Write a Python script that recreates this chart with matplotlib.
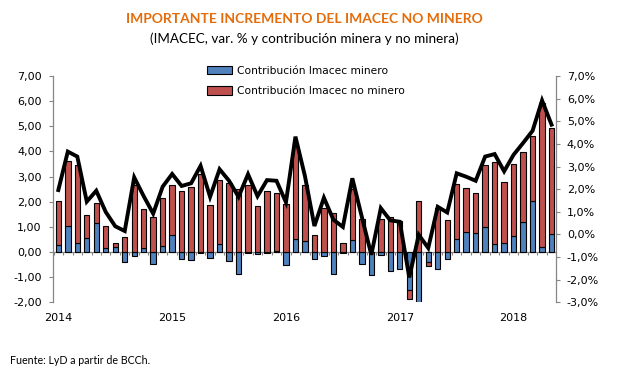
import numpy as np
import matplotlib
matplotlib.use("Agg")
import matplotlib.pyplot as plt
from matplotlib.ticker import FuncFormatter, FixedLocator

# ---------------- data ----------------
months = [f"{y}-{m:02d}" for y in range(2014, 2019) for m in range(1, 13)][:53]

minero = [0.27, 1.02, 0.34, 0.54, 1.14, 0.15, 0.19, -0.41, -0.15, 0.15, -0.49, 0.23,
          0.66, -0.29, -0.33, -0.05, -0.25, 0.31, -0.37, -0.89, -0.05, -0.09, -0.05, 0.06,
          -0.53, 0.50, 0.45, -0.29, -0.17, -0.89, -0.05, 0.46, -0.49, -0.93, -0.13, -0.77,
          -0.66, -1.51, -2.10, -0.40, -0.69, -0.28, 0.50, 0.78, 0.74, 0.98, 0.31, 0.34,
          0.62, 1.18, 2.02, 0.19, 0.70]

no_minero = [1.75, 2.59, 3.11, 0.92, 0.80, 0.87, 0.15, 0.58, 2.65, 1.55, 1.38, 1.91,
             1.99, 2.41, 2.57, 3.09, 1.86, 2.54, 2.73, 2.49, 2.65, 1.83, 2.41, 2.27,
             1.90, 3.85, 2.20, 0.66, 1.74, 1.57, 0.34, 2.03, 1.30, 0.02, 1.30, 1.38,
             1.23, -0.36, 2.02, -0.17, 1.75, 1.26, 2.19, 1.75, 1.59, 2.47, 3.26, 2.43,
             2.87, 2.79, 2.58, 5.73, 4.22]

imacec = [1.96, 3.66, 3.44, 1.45, 1.93, 0.99, 0.36, 0.15, 2.52, 1.69, 0.92, 2.11,
          2.67, 2.14, 2.26, 3.03, 1.66, 2.88, 2.37, 1.66, 2.66, 1.69, 2.40, 2.37,
          1.42, 4.32, 2.58, 0.37, 1.62, 0.65, 0.33, 2.48, 0.77, -0.90, 1.16, 0.62,
          0.56, -1.90, -0.02, -0.60, 1.22, 0.97, 2.70, 2.55, 2.37, 3.44, 3.55, 2.79,
          3.52, 4.04, 4.58, 5.92, 4.85]

year_labels = ["2014", "2015", "2016", "2017", "2018"]
series_names = ["Contribución Imacec minero", "Contribución Imacec no minero"]

title = "IMPORTANTE INCREMENTO DEL IMACEC NO MINERO"
subtitle = "(IMACEC, var. % y contribución minera y no minera)"
source = "Fuente: LyD a partir de BCCh."

# ---------------- style ----------------
BLUE = "#4F81BD"
RED = "#C0504D"
ORANGE = "#E46C0A"
GRAY = "#868686"

plt.rcParams["font.family"] = ["DejaVu Sans"]

W, H = 617, 378
fig = plt.figure(figsize=(W / 100, H / 100), dpi=100)
ax = fig.add_axes([53.3 / W, 1 - 302.3 / H, (556 - 53.3) / W, (302.3 - 76) / H])

x = np.arange(len(months))
m = np.array(minero)
nm = np.array(no_minero)
same_sign = (m * nm) > 0
red_bottom = np.where(same_sign, m, 0.0)

bw = 0.57
b1 = ax.bar(x, m, width=bw, color=BLUE, edgecolor="black", linewidth=0.8, zorder=3)
b2 = ax.bar(x, nm, width=bw, bottom=red_bottom, color=RED, edgecolor="black",
            linewidth=0.8, zorder=3)

ax.set_xlim(-0.53, len(months) - 0.53)
ax.set_ylim(-2, 7)
ax.set_yticks(np.arange(-2, 8, 1))
ax.yaxis.set_major_formatter(FuncFormatter(lambda v, p: f"{v:.2f}".replace(".", ",")))

# x axis at zero with category boundary ticks
ax.spines["bottom"].set_position(("data", 0))
ax.spines["bottom"].set_color(GRAY)
ax.spines["bottom"].set_linewidth(0.9)
ax.spines["top"].set_visible(False)
ax.spines["right"].set_visible(False)
ax.spines["left"].set_color(GRAY)
ax.spines["left"].set_linewidth(0.9)

jan_idx = [i for i, s in enumerate(months) if s.endswith("-01")]
ax.set_xticks(jan_idx)
ax.set_xticklabels(year_labels)
ax.xaxis.set_minor_locator(FixedLocator(np.arange(-0.5, len(months), 1.0)))
ax.tick_params(axis="x", which="major", length=0, pad=44, labelsize=8, colors="black")
ax.tick_params(axis="x", which="minor", length=2.5, width=0.8, color=GRAY, direction="out")
ax.tick_params(axis="y", length=3, width=0.8, color=GRAY, pad=5.3, labelsize=8,
               labelcolor="black")

# right axis line
ax2 = ax.twinx()
ax2.plot(x, imacec, color="black", lw=2.8, solid_joinstyle="miter", zorder=5)
ax2.set_ylim(-3, 7)
ax2.set_yticks(np.arange(-3, 8, 1))
ax2.yaxis.set_major_formatter(FuncFormatter(lambda v, p: f"{v:.1f}%".replace(".", ",")))
for s in ["top", "bottom", "left"]:
    ax2.spines[s].set_visible(False)
ax2.spines["right"].set_color(GRAY)
ax2.spines["right"].set_linewidth(0.9)
ax2.tick_params(axis="y", length=3, width=0.8, color=GRAY, pad=4.8, labelsize=8,
                labelcolor="black")

leg = ax.legend([b1, b2], series_names, loc="upper left",
                bbox_to_anchor=((207 - 53.3) / (556 - 53.3), (302.3 - 66) / (302.3 - 76)),
                frameon=False, fontsize=7.7, handlelength=2.3, handleheight=0.8,
                handletextpad=0.5, labelspacing=0.95, borderaxespad=0, borderpad=0)

fig.text(304 / W, 1 - 19 / H, title, ha="center", va="center", color=ORANGE,
         fontsize=10, fontweight="bold", family=["Lato", "DejaVu Sans"])
fig.text(304 / W, 1 - 39 / H, subtitle, ha="center", va="center", color="black",
         fontsize=9.7, family=["Lato", "DejaVu Sans"])
fig.text(10 / W, 1 - 361 / H, source, ha="left", va="center", color="black",
         fontsize=7.7, family=["Lato", "DejaVu Sans"])

fig.savefig("out.png", dpi=100, facecolor="white")
